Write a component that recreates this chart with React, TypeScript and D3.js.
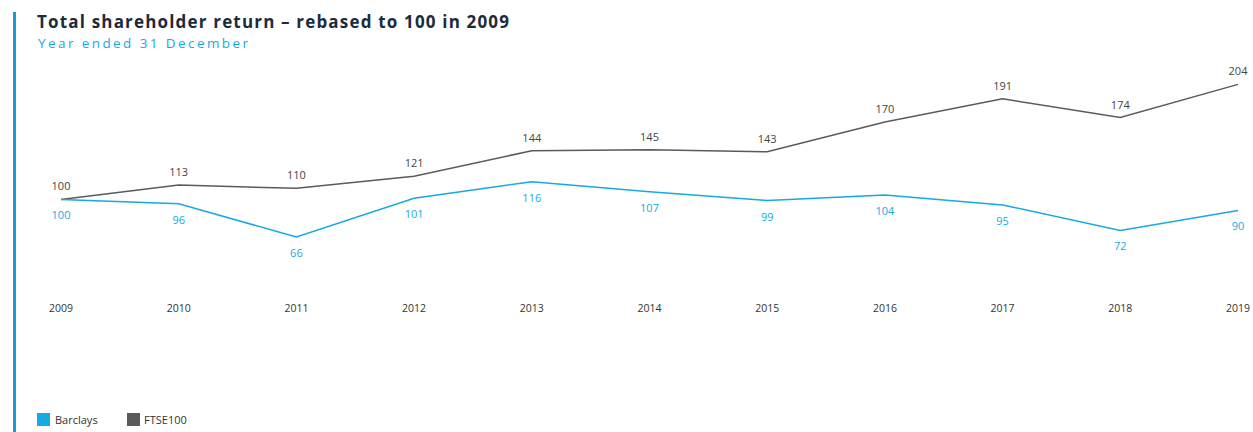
import React from "react";
import * as d3 from "d3";

const years = ["2009", "2010", "2011", "2012", "2013", "2014", "2015", "2016", "2017", "2018", "2019"];
const barclays = [100, 96, 66, 101, 116, 107, 99, 104, 95, 72, 90];
const ftse = [100, 113, 110, 121, 144, 145, 143, 170, 191, 174, 204];
const seriesNames = ["Barclays", "FTSE100"];

const W = 1253;
const H = 432;
const CYAN = "#17a9e1";
const GREY = "#5a5a5a";
const FONT = "'Open Sans', 'Noto Sans', sans-serif";

export default function App() {
  const x = d3.scalePoint<string>().domain(years).range([61, 1238]);
  const y = d3.scaleLinear().domain([0, 220]).range([310, 310 - 220 * 1.106]);
  const line = d3
    .line<number>()
    .x((_, i) => x(years[i]) as number)
    .y((d) => y(d));

  return (
    <svg
      width={W}
      height={H}
      style={{ position: "absolute", left: 0, top: 0, background: "#fff" }}
      fontFamily={FONT}
    >
      <rect x={13} y={12} width={3} height={H - 12} fill="#1b9ad8" />
      <text
        x={37}
        y={28}
        fontSize={17}
        fontWeight={700}
        fill="#1c2b3c"
        textLength={472}
        lengthAdjust="spacing"
      >
        Total shareholder return – rebased to 100 in 2009
      </text>
      <text
        x={38}
        y={48}
        fontSize={13.5}
        fill={CYAN}
        textLength={210}
        lengthAdjust="spacing"
      >
        Year ended 31 December
      </text>

      <path d={line(ftse) || ""} fill="none" stroke={GREY} strokeWidth={1.5} />
      <path d={line(barclays) || ""} fill="none" stroke={CYAN} strokeWidth={1.5} />

      {ftse.map((v, i) => (
        <text
          key={"f" + i}
          x={x(years[i]) as number}
          y={y(v) - 9}
          fontSize={11}
          textAnchor="middle"
          fill="#444"
        >
          {v}
        </text>
      ))}
      {barclays.map((v, i) => (
        <text
          key={"b" + i}
          x={x(years[i]) as number}
          y={y(v) + 20}
          fontSize={11}
          textAnchor="middle"
          fill={CYAN}
        >
          {v}
        </text>
      ))}

      {years.map((yr) => (
        <text
          key={yr}
          x={x(yr) as number}
          y={312}
          fontSize={10.5}
          textAnchor="middle"
          fill="#333"
        >
          {yr}
        </text>
      ))}

      <g>
        <rect x={37} y={413} width={13} height={13} fill={CYAN} />
        <text x={55} y={424} fontSize={11} fill="#333">
          {seriesNames[0]}
        </text>
        <rect x={127} y={413} width={13} height={13} fill={GREY} />
        <text x={144} y={424} fontSize={11} fill="#333">
          {seriesNames[1]}
        </text>
      </g>
    </svg>
  );
}
